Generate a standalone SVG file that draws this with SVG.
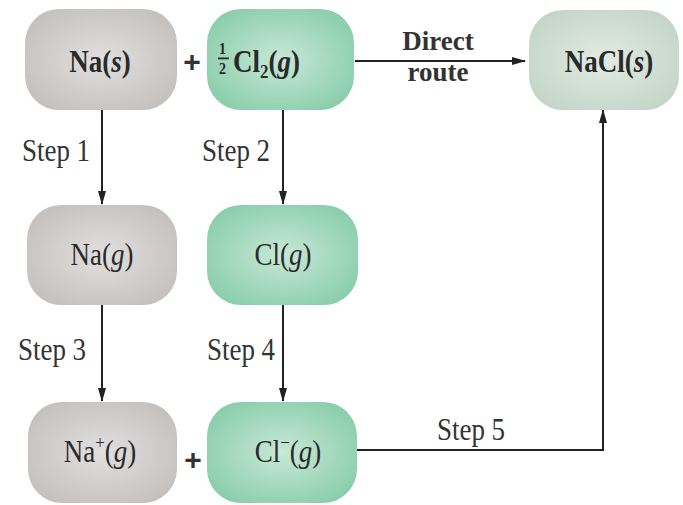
<svg xmlns="http://www.w3.org/2000/svg" width="683" height="505" viewBox="0 0 683 505">
<style>
  .t { font-family: "Liberation Serif", "Times New Roman", serif; font-size: 27px; fill: #2a2a2a; text-anchor: middle; }
  .b { font-weight: bold; }
  .i { font-style: italic; }
  .lab { font-family: "Liberation Serif", "Times New Roman", serif; font-size: 27px; fill: #333; text-anchor: middle; }
  .plus { font-family: "Liberation Sans", Arial, sans-serif; font-size: 30px; font-weight: bold; fill: #333; text-anchor: middle; }
  .conn { stroke: #222; stroke-width: 2; fill: none; }
</style>
<defs>
  <radialGradient id="gGray" cx="0.5" cy="0.5" r="0.6">
    <stop offset="0" stop-color="#e2e0de"/>
    <stop offset="1" stop-color="#c3c0be"/>
  </radialGradient>
  <radialGradient id="gGreen" cx="0.5" cy="0.5" r="0.6">
    <stop offset="0" stop-color="#c8e8d6"/>
    <stop offset="1" stop-color="#89cdab"/>
  </radialGradient>
  <radialGradient id="gPale" cx="0.5" cy="0.5" r="0.6">
    <stop offset="0" stop-color="#e2ebe3"/>
    <stop offset="1" stop-color="#c3d5c8"/>
  </radialGradient>
  <marker id="ah" viewBox="0 0 14 8" refX="13" refY="4" markerWidth="14" markerHeight="8" markerUnits="userSpaceOnUse" orient="auto">
    <path d="M0,0 L14,4 L0,8 Z" fill="#222"/>
  </marker>
</defs>
<rect width="683" height="505" fill="#ffffff"/>

<g id="connectors">
  <line class="conn" x1="355" y1="61" x2="525" y2="61" marker-end="url(#ah)"/>
  <line class="conn" x1="102" y1="110" x2="102" y2="204" marker-end="url(#ah)"/>
  <line class="conn" x1="283" y1="110" x2="283" y2="204" marker-end="url(#ah)"/>
  <line class="conn" x1="102" y1="305" x2="102" y2="401" marker-end="url(#ah)"/>
  <line class="conn" x1="283" y1="305" x2="283" y2="401" marker-end="url(#ah)"/>
  <polyline class="conn" points="357,450 603,450 603,110" marker-end="url(#ah)"/>
  <text class="lab b" transform="translate(438,50) scale(1,1.05)">Direct</text>
  <text class="lab b" transform="translate(438,81) scale(1,1.05)">route</text>
  <text class="lab" transform="translate(56,161) scale(1,1.15)">Step 1</text>
  <text class="lab" transform="translate(236,161) scale(1,1.15)">Step 2</text>
  <text class="lab" transform="translate(52,360) scale(1,1.15)">Step 3</text>
  <text class="lab" transform="translate(241,360) scale(1,1.15)">Step 4</text>
  <text class="lab" transform="translate(471,440) scale(1,1.15)">Step 5</text>
</g>

<g id="na-s">
  <rect x="25" y="9" width="152" height="101" rx="34" fill="url(#gGray)"/>
  <text class="t b" transform="translate(100,72) scale(1,1.15)">Na(<tspan class="i">s</tspan>)</text>
</g>
<g id="plus-top">
  <text class="plus" x="192" y="72">+</text>
</g>
<g id="cl2-g">
  <rect x="207" y="9" width="147" height="101" rx="34" fill="url(#gGreen)"/>
  <rect x="218" y="57.5" width="11" height="1.8" fill="#2a2a2a"/>
  <text class="t b" style="text-anchor:start" transform="translate(233,72) scale(1,1.15)"><tspan font-size="14" x="-14" y="-15.5">1</tspan><tspan font-size="14" x="-14" y="1.5">2</tspan><tspan x="0" y="0">Cl</tspan><tspan font-size="17" dy="5">2</tspan><tspan dy="-5">(</tspan><tspan class="i">g</tspan>)</text>
</g>
<g id="nacl-s">
  <rect x="529" y="10" width="150" height="100" rx="34" fill="url(#gPale)"/>
  <text class="t b" transform="translate(609,72) scale(1,1.15)">NaCl(<tspan class="i">s</tspan>)</text>
</g>

<g id="na-g">
  <rect x="27" y="205" width="150" height="100" rx="34" fill="url(#gGray)"/>
  <text class="t" transform="translate(102,265) scale(1,1.15)">Na(<tspan class="i">g</tspan>)</text>
</g>
<g id="cl-g">
  <rect x="207" y="205" width="151" height="100" rx="34" fill="url(#gGreen)"/>
  <text class="t" transform="translate(283,265) scale(1,1.15)">Cl(<tspan class="i">g</tspan>)</text>
</g>

<g id="na-plus-g">
  <rect x="28" y="402" width="149" height="101" rx="34" fill="url(#gGray)"/>
  <text class="t" transform="translate(100,462) scale(1,1.15)">Na<tspan font-size="17" dy="-11">+</tspan><tspan dy="11">(</tspan><tspan class="i">g</tspan>)</text>
</g>
<g id="plus-bottom">
  <text class="plus" x="193" y="470">+</text>
</g>
<g id="cl-minus-g">
  <rect x="207" y="402" width="150" height="101" rx="34" fill="url(#gGreen)"/>
  <text class="t" transform="translate(288,462) scale(1,1.15)">Cl<tspan font-size="17" dy="-11">−</tspan><tspan dy="11">(</tspan><tspan class="i">g</tspan>)</text>
</g>
</svg>
